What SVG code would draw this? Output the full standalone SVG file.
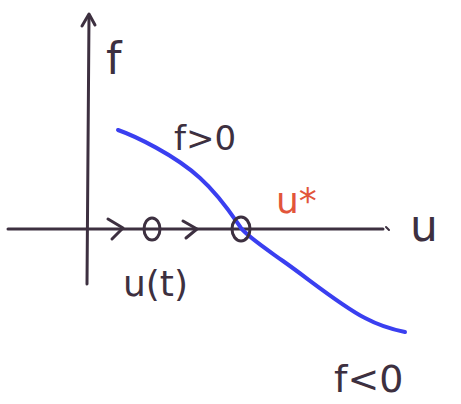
<svg xmlns="http://www.w3.org/2000/svg" width="461" height="404" viewBox="0 0 461 404">
<style>
.ink{fill:none;stroke:#3d3040;stroke-width:3;stroke-linecap:round;stroke-linejoin:round}
.t{font-family:"DejaVu Sans","Liberation Sans",sans-serif;fill:#3d3040}
.red{fill:#e2553a}
.curve{fill:none;stroke:#3a3ff0;stroke-width:4;stroke-linecap:round}
</style>
<rect width="461" height="404" fill="#ffffff"/>
<g id="axes">
<path class="ink" d="M87,284 L89,16"/>
<path class="ink" d="M82,26 L89,14 L95,25"/>
<path class="ink" d="M8,229 L383,229"/>
<path class="ink" d="M386,227 L389,230" style="stroke-width:2"/>
</g>
<g id="curve">
<path class="curve" d="M118,130 C135,136 175,155 200,178 C220,196 232,215 241,228 C247,236 262,246 283,261 C310,280 340,305 365,318 C380,326 395,330 405,332"/>
</g>
<g id="flow">
<path class="ink" d="M108,219 L123,228 L112,239"/>
<ellipse class="ink" cx="152" cy="229" rx="8" ry="11"/>
<path class="ink" d="M183,221 L197,229 L186,238"/>
<ellipse class="ink" cx="241" cy="229" rx="9" ry="12"/>
</g>
<g id="labels">
<text class="t" x="106" y="74" font-size="44">f</text>
<text class="t" x="174" y="150" font-size="34">f&gt;0</text>
<text class="t red" x="276" y="213" font-size="36">u*</text>
<text class="t" x="410" y="241" font-size="44">u</text>
<text class="t" x="123" y="296" font-size="36">u(t)</text>
<text class="t" x="334" y="392" font-size="38">f&lt;0</text>
</g>
</svg>
